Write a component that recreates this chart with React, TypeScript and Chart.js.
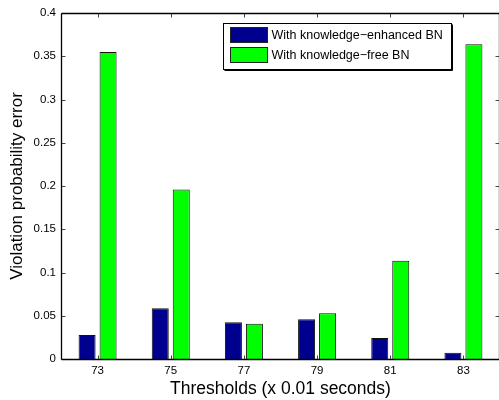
import React, { useEffect, useRef } from "react";
import { Chart, registerables } from "chart.js";

Chart.register(...registerables);

const categories = ["73", "75", "77", "79", "81", "83"];
const knowledgeEnhanced = [0.0277, 0.0586, 0.0424, 0.0459, 0.0243, 0.0073];
const knowledgeFree = [0.355, 0.196, 0.0408, 0.0528, 0.1137, 0.3638];
const seriesLabels = ["With knowledge\u2212enhanced BN", "With knowledge\u2212free BN"];
const seriesColors = ["#00008f", "#00ff00"];
const xTitle = "Thresholds (x 0.01 seconds)";
const yTitle = "Violation probability error";
const yMin = 0;
const yMax = 0.4;
const yStep = 0.05;

const FONT = "'Liberation Sans', Arial, Helvetica, sans-serif";

const frameTicksPlugin = {
  id: "frameTicks",
  afterDatasetsDraw(chart: any) {
    const { ctx, chartArea } = chart;
    const { left, right, top, bottom } = chartArea;
    const xs = chart.scales.x;
    const ys = chart.scales.y;
    const L = Math.round(left) + 0.5;
    const R = Math.round(right) - 0.5;
    const T = Math.round(top) + 0.5;
    const B = Math.round(bottom) + 0.5;
    const line = (x1: number, y1: number, x2: number, y2: number) => {
      ctx.beginPath();
      ctx.moveTo(x1, y1);
      ctx.lineTo(x2, y2);
      ctx.stroke();
    };
    ctx.save();
    ctx.lineWidth = 1;
    ctx.strokeStyle = "#444";
    ys.ticks.forEach((_t: any, i: number) => {
      const py = Math.round(ys.getPixelForTick(i)) + 0.5;
      line(L, py, L + 4, py);
      line(R, py, R - 4, py);
    });
    xs.ticks.forEach((_t: any, i: number) => {
      const px = Math.round(xs.getPixelForTick(i)) + 0.5;
      line(px, T, px, T + 4);
      line(px, B, px, B - 4);
    });
    ctx.strokeStyle = "#000";
    ctx.lineWidth = 1.3;
    line(L, T, R, T);
    line(L, B, R, B);
    line(L, T, L, B);
    line(R, T, R, B);
    ctx.restore();
  },
};

const legendPlugin = {
  id: "boxLegend",
  afterDraw(chart: any) {
    const { ctx } = chart;
    const bx = 223;
    const by = 23;
    const bw = 228;
    const bh = 46;
    ctx.save();
    ctx.fillStyle = "#fff";
    ctx.fillRect(bx, by, bw, bh);
    ctx.strokeStyle = "#000";
    ctx.lineWidth = 1;
    ctx.strokeRect(bx + 0.5, by + 0.5, bw, bh);
    ctx.beginPath();
    ctx.moveTo(bx + 1.5, by + bh + 1.5);
    ctx.lineTo(bx + bw + 1.5, by + bh + 1.5);
    ctx.lineTo(bx + bw + 1.5, by + 1.5);
    ctx.stroke();
    chart.data.datasets.forEach((ds: any, i: number) => {
      const sy = by + 4.5 + i * 20;
      ctx.fillStyle = ds.backgroundColor;
      ctx.fillRect(230.5, sy, 37, 15);
      ctx.strokeStyle = "#222";
      ctx.strokeRect(230.5, sy, 37, 15);
      ctx.fillStyle = "#000";
      ctx.font = `12.5px ${FONT}`;
      ctx.textBaseline = "middle";
      ctx.textAlign = "left";
      ctx.fillText(ds.label, 271.5, sy + 8);
    });
    ctx.restore();
  },
};

export default function App() {
  const ref = useRef<HTMLCanvasElement | null>(null);

  useEffect(() => {
    if (!ref.current) return;
    const chart = new Chart(ref.current, {
      type: "bar",
      data: {
        labels: categories,
        datasets: [
          {
            label: seriesLabels[0],
            data: knowledgeEnhanced,
            backgroundColor: seriesColors[0],
            borderColor: "#111",
            borderWidth: 1,
            barPercentage: 0.81,
            categoryPercentage: 0.574,
          },
          {
            label: seriesLabels[1],
            data: knowledgeFree,
            backgroundColor: seriesColors[1],
            borderColor: "#111",
            borderWidth: 1,
            barPercentage: 0.81,
            categoryPercentage: 0.574,
          },
        ],
      },
      options: {
        animation: false,
        responsive: false,
        maintainAspectRatio: false,
        devicePixelRatio: 1,
        layout: { padding: { top: 13, right: 2, left: 0, bottom: 0 } },
        plugins: {
          legend: { display: false },
          tooltip: { enabled: false },
        },
        scales: {
          x: {
            grid: { display: false, drawTicks: false },
            border: { display: false },
            ticks: { color: "#000", font: { family: FONT, size: 11.5 }, padding: 5 },
            title: {
              display: true,
              text: xTitle,
              color: "#000",
              font: { family: FONT, size: 17.5 },
              padding: { top: 0, bottom: 0.5 },
            },
            afterFit(s: any) {
              s.height = 41;
            },
          },
          y: {
            min: yMin,
            max: yMax,
            grid: { display: false, drawTicks: false },
            border: { display: false },
            ticks: {
              stepSize: yStep,
              color: "#000",
              font: { family: FONT, size: 11.5 },
              padding: 5,
              callback: (v: any) => String(Number(Number(v).toFixed(2))),
            },
            title: {
              display: true,
              text: yTitle,
              color: "#000",
              font: { family: FONT, size: 17 },
              padding: { top: 7, bottom: 0 },
            },
            afterFit(s: any) {
              s.width = 61;
            },
          },
        },
      },
      plugins: [frameTicksPlugin, legendPlugin],
    });
    return () => chart.destroy();
  }, []);

  return (
    <div
      style={{
        position: "fixed",
        left: 0,
        top: 0,
        width: 499,
        height: 400,
        overflow: "hidden",
        background: "#fff",
      }}
    >
      <canvas ref={ref} width={502} height={400} style={{ width: 502, height: 400, display: "block" }} />
    </div>
  );
}
